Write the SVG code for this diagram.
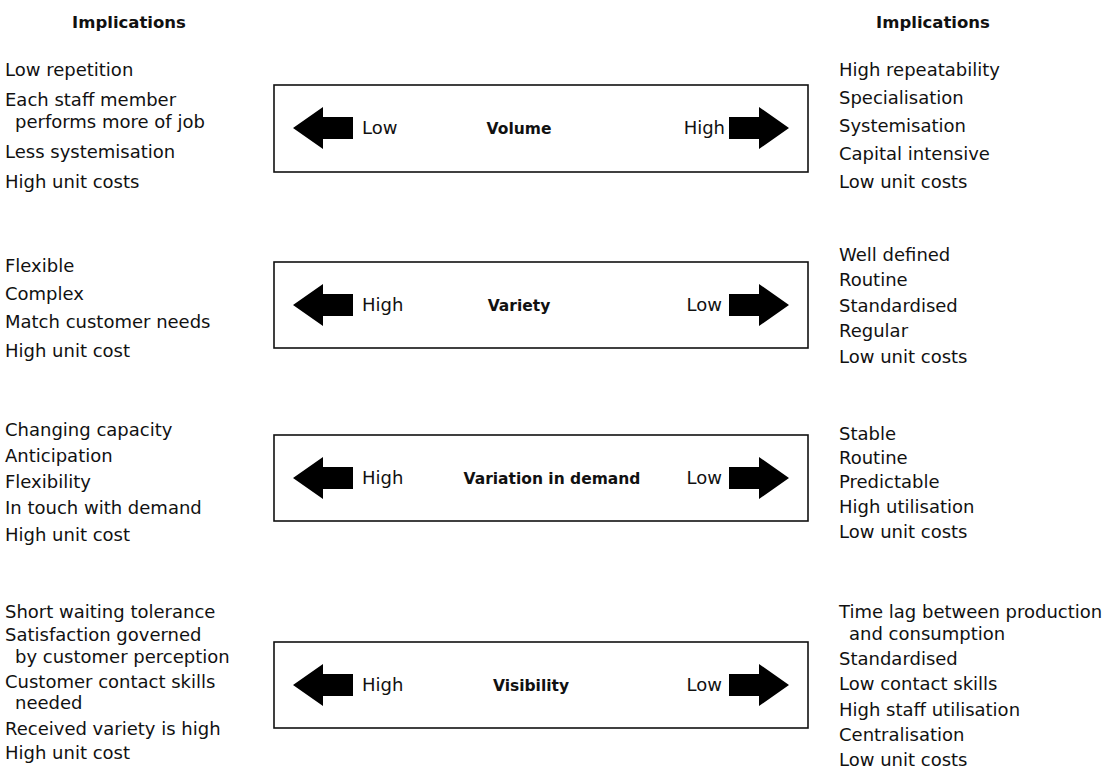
<svg xmlns="http://www.w3.org/2000/svg" width="1110" height="775" viewBox="0 0 1110 775">
  <style>
    text { font-family: "DejaVu Sans", "Open Sans", sans-serif; fill: #111; }
    .hd { font-size: 16.5px; font-weight: bold; text-anchor: middle; }
    .it { font-size: 18px; }
    .lbl { font-size: 18px; }
    .ttl { font-size: 15.5px; font-weight: bold; }
    .box { fill: #fff; stroke: #111; stroke-width: 1.6; }
    .arw { fill: #000; }
  </style>
  <defs>
    <!-- block arrow pointing left, tip at origin -->
    <path id="arrowL" d="M0 0 L30 -21 L30 -11 L60 -11 L60 11 L30 11 L30 21 Z"/>
    <!-- block arrow pointing right, tip at origin -->
    <path id="arrowR" d="M0 0 L-30 -21 L-30 -11 L-60 -11 L-60 11 L-30 11 L-30 21 Z"/>
  </defs>

  <!-- column headings -->
  <text class="hd" x="129" y="28">Implications</text>
  <text class="hd" x="933" y="28">Implications</text>

  <!-- Volume -->
  <g id="volume">
    <rect class="box" x="274" y="85" width="534" height="87"/>
    <use href="#arrowL" class="arw" x="293" y="128"/>
    <use href="#arrowR" class="arw" x="789" y="128"/>
    <text class="lbl" x="362" y="134">Low</text>
    <text class="ttl" x="519" y="134" text-anchor="middle">Volume</text>
    <text class="lbl" x="725" y="134" text-anchor="end">High</text>
  </g>
  <g id="volume-left">
    <text class="it" x="5" y="76">Low repetition</text>
    <text class="it" x="5" y="106">Each staff member</text>
    <text class="it" x="15" y="128">performs more of job</text>
    <text class="it" x="5" y="158">Less systemisation</text>
    <text class="it" x="5" y="188">High unit costs</text>
  </g>
  <g id="volume-right">
    <text class="it" x="839" y="76">High repeatability</text>
    <text class="it" x="839" y="104">Specialisation</text>
    <text class="it" x="839" y="132">Systemisation</text>
    <text class="it" x="839" y="160">Capital intensive</text>
    <text class="it" x="839" y="188">Low unit costs</text>
  </g>

  <!-- Variety -->
  <g id="variety">
    <rect class="box" x="274" y="262" width="534" height="86"/>
    <use href="#arrowL" class="arw" x="293" y="305"/>
    <use href="#arrowR" class="arw" x="789" y="305"/>
    <text class="lbl" x="362" y="311">High</text>
    <text class="ttl" x="519" y="311" text-anchor="middle">Variety</text>
    <text class="lbl" x="722" y="311" text-anchor="end">Low</text>
  </g>
  <g id="variety-left">
    <text class="it" x="5" y="272">Flexible</text>
    <text class="it" x="5" y="300">Complex</text>
    <text class="it" x="5" y="328">Match customer needs</text>
    <text class="it" x="5" y="357">High unit cost</text>
  </g>
  <g id="variety-right">
    <text class="it" x="839" y="261">Well defined</text>
    <text class="it" x="839" y="286">Routine</text>
    <text class="it" x="839" y="312">Standardised</text>
    <text class="it" x="839" y="337">Regular</text>
    <text class="it" x="839" y="363">Low unit costs</text>
  </g>

  <!-- Variation in demand -->
  <g id="variation">
    <rect class="box" x="274" y="435" width="534" height="86"/>
    <use href="#arrowL" class="arw" x="293" y="478"/>
    <use href="#arrowR" class="arw" x="789" y="478"/>
    <text class="lbl" x="362" y="484">High</text>
    <text class="ttl" x="552" y="484" text-anchor="middle">Variation in demand</text>
    <text class="lbl" x="722" y="484" text-anchor="end">Low</text>
  </g>
  <g id="variation-left">
    <text class="it" x="5" y="436">Changing capacity</text>
    <text class="it" x="5" y="462">Anticipation</text>
    <text class="it" x="5" y="488">Flexibility</text>
    <text class="it" x="5" y="514">In touch with demand</text>
    <text class="it" x="5" y="541">High unit cost</text>
  </g>
  <g id="variation-right">
    <text class="it" x="839" y="440">Stable</text>
    <text class="it" x="839" y="464">Routine</text>
    <text class="it" x="839" y="488">Predictable</text>
    <text class="it" x="839" y="513">High utilisation</text>
    <text class="it" x="839" y="538">Low unit costs</text>
  </g>

  <!-- Visibility -->
  <g id="visibility">
    <rect class="box" x="274" y="642" width="534" height="86"/>
    <use href="#arrowL" class="arw" x="293" y="685"/>
    <use href="#arrowR" class="arw" x="789" y="685"/>
    <text class="lbl" x="362" y="691">High</text>
    <text class="ttl" x="531" y="691" text-anchor="middle">Visibility</text>
    <text class="lbl" x="722" y="691" text-anchor="end">Low</text>
  </g>
  <g id="visibility-left">
    <text class="it" x="5" y="618">Short waiting tolerance</text>
    <text class="it" x="5" y="641">Satisfaction governed</text>
    <text class="it" x="15" y="663">by customer perception</text>
    <text class="it" x="5" y="688">Customer contact skills</text>
    <text class="it" x="15" y="709">needed</text>
    <text class="it" x="5" y="735">Received variety is high</text>
    <text class="it" x="5" y="759">High unit cost</text>
  </g>
  <g id="visibility-right">
    <text class="it" x="839" y="618">Time lag between production</text>
    <text class="it" x="849" y="640">and consumption</text>
    <text class="it" x="839" y="665">Standardised</text>
    <text class="it" x="839" y="690">Low contact skills</text>
    <text class="it" x="839" y="716">High staff utilisation</text>
    <text class="it" x="839" y="741">Centralisation</text>
    <text class="it" x="839" y="766">Low unit costs</text>
  </g>
</svg>
